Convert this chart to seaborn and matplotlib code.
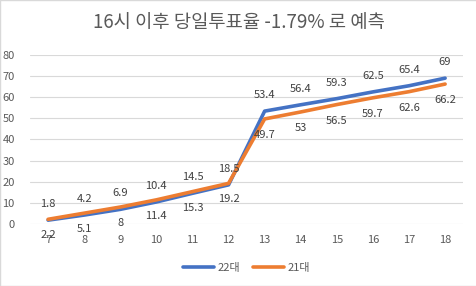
import pandas as pd
import seaborn as sns
import matplotlib.pyplot as plt

# hourly cumulative turnout (%)
hours = ["7", "8", "9", "10", "11", "12", "13", "14", "15", "16", "17", "18"]
turnout_22 = [1.8, 4.2, 6.9, 10.4, 14.5, 18.5, 53.4, 56.4, 59.3, 62.5, 65.4, 69]
turnout_21 = [2.2, 5.1, 8, 11.4, 15.3, 19.2, 49.7, 53, 56.5, 59.7, 62.6, 66.2]
series_names = ["22대", "21대"]

df = pd.DataFrame({
    "hour": hours * 2,
    "turnout": turnout_22 + turnout_21,
    "series": [series_names[0]] * len(hours) + [series_names[1]] * len(hours),
})

sns.set_theme(style="white")
plt.rcParams['font.family'] = ['Noto Sans CJK KR', 'DejaVu Sans']

grey = "#595959"
fig = plt.figure(figsize=(4.77, 2.86), dpi=100)
ax = fig.add_axes([0.063, 0.217, 0.908, 0.591])

sns.lineplot(data=df, x="hour", y="turnout", hue="series", sort=False,
             palette={"22대": "#4472C4", "21대": "#ED7D31"}, linewidth=2.6, ax=ax)

# data labels: blue above, orange below
for i, h in enumerate(hours):
    ax.annotate(f"{turnout_22[i]:g}", (i, turnout_22[i]), xytext=(0, 11.5),
                textcoords="offset points", ha="center", va="center",
                fontsize=8, color="#404040")
    ax.annotate(f"{turnout_21[i]:g}", (i, turnout_21[i]), xytext=(0, -11.5),
                textcoords="offset points", ha="center", va="center",
                fontsize=8, color="#404040")

ax.set_xlim(-0.5, len(hours) - 0.5)
ax.set_ylim(0, 80)
ax.set_yticks(range(0, 81, 10))
ax.yaxis.grid(True, color="#D9D9D9", linewidth=0.8)
ax.set_axisbelow(True)
for s in ax.spines.values():
    s.set_visible(False)
ax.tick_params(axis="both", length=0, labelsize=8, labelcolor=grey, pad=8)
ax.tick_params(axis="y", pad=11)
ax.set_xlabel("")
ax.set_ylabel("")

fig.text(0.5, 0.923, "16시 이후 당일투표율 -1.79% 로 예측", fontsize=13.5,
         color=grey, ha="center", va="center")

ax.legend(title="", loc="upper center", bbox_to_anchor=(0.5, -0.17), ncol=2,
          frameon=False, fontsize=8, labelcolor=grey, handlelength=2.8,
          columnspacing=1.2, handletextpad=0.3)

fig.patches.append(plt.Rectangle((0, 0), 1, 1, transform=fig.transFigure,
                                 fill=False, edgecolor="#D9D9D9", linewidth=1))

plt.savefig("out.png", dpi=100)
